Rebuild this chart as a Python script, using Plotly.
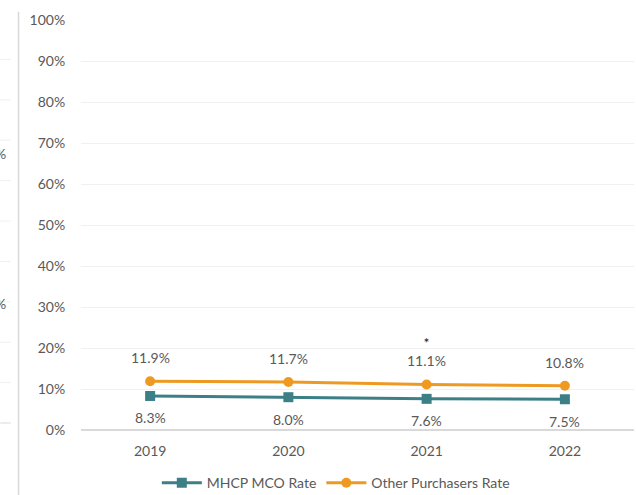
import plotly.graph_objects as go

years = ["2019", "2020", "2021", "2022"]
mhcp_rate = [8.3, 8.0, 7.6, 7.5]
other_rate = [11.9, 11.7, 11.1, 10.8]
flagged_years = ["2021"]

TEAL = "#3C7F86"
ORANGE = "#EE9A22"
TEXT = "#595959"
FONT = "Lato"

fig = go.Figure()
fig.add_trace(go.Scatter(
    x=years, y=mhcp_rate, name="MHCP MCO Rate", mode="lines+markers",
    line=dict(color=TEAL, width=3),
    marker=dict(symbol="square", size=10, color=TEAL),
))
fig.add_trace(go.Scatter(
    x=years, y=other_rate, name="Other Purchasers Rate", mode="lines+markers",
    line=dict(color=ORANGE, width=3),
    marker=dict(symbol="circle", size=10, color=ORANGE),
))

# category axes place annotations by category index
annotations = []
for i, (yr, v) in enumerate(zip(years, other_rate)):
    label = f"{v:.1f}%"
    if yr in flagged_years:
        label = "<span style='color:#1A1A1A'>*</span><br>" + label
    annotations.append(dict(x=i, y=v, xref="x", yref="y", text=label,
                            showarrow=False, yanchor="bottom", yshift=13,
                            font=dict(family=FONT, size=14, color=TEXT)))
for i, v in enumerate(mhcp_rate):
    annotations.append(dict(x=i, y=v, xref="x", yref="y", text=f"{v:.1f}%",
                            showarrow=False, yshift=-22,
                            font=dict(family=FONT, size=14, color=TEXT)))

# edge of the neighbouring panel on the slide
shapes = [dict(type="line", xref="paper", yref="paper", x0=-0.113, x1=-0.113,
               y0=1.02, y1=-0.2, line=dict(color="#D9D9D9", width=1.5))]
for k in range(11):
    yy = 423 - k * 40.4
    shapes.append(dict(type="line", xref="paper", yref="y", x0=-0.146, x1=-0.127,
                       y0=(430 - yy) / 4.1, y1=(430 - yy) / 4.1,
                       line=dict(color="#D9D9D9" if k == 0 else "#F0F0F0", width=1)))
for yy in (153, 303):
    annotations.append(dict(x=0, xref="paper", y=(430 - yy) / 4.1, yref="y",
                            text="%", showarrow=False, xanchor="left",
                            font=dict(family=FONT, size=14, color=TEXT),
                            xshift=-88))

fig.update_layout(
    width=636, height=495,
    margin=dict(l=81, r=2, t=20, b=65),
    paper_bgcolor="white", plot_bgcolor="white",
    font=dict(family=FONT, size=14, color=TEXT),
    showlegend=True,
    legend=dict(orientation="h", xref="container", yref="container",
                x=0.528, xanchor="center", y=0.024, yanchor="middle",
                font=dict(family=FONT, size=14, color=TEXT),
                itemwidth=40, tracegroupgap=0),
    annotations=annotations,
    shapes=shapes,
)
fig.update_xaxes(type="category", range=[-0.5, 3.5],
                 showgrid=False, showline=False, zeroline=False,
                 ticks="outside", ticklen=8, tickcolor="rgba(0,0,0,0)",
                 tickfont=dict(family=FONT, size=14, color=TEXT))
fig.update_yaxes(range=[0, 100], dtick=10, ticksuffix="%",
                 showgrid=True, gridcolor="#F0F0F0", gridwidth=1,
                 zeroline=True, zerolinecolor="#D9D9D9", zerolinewidth=1.5,
                 showline=False, ticks="outside", ticklen=12,
                 tickcolor="rgba(0,0,0,0)",
                 tickfont=dict(family=FONT, size=14, color=TEXT))

fig.write_html("out.html")
